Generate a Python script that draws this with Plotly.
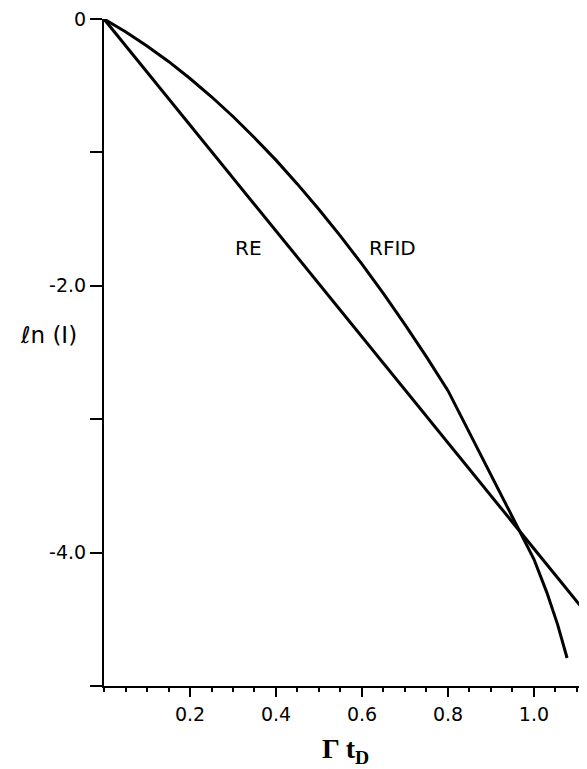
import plotly.graph_objects as go

# Data
re_x = [0.0, 1.113]
re_y = [0.0, -4.42]

rfid_x = [0.0, 0.05, 0.10, 0.15, 0.20, 0.25, 0.30, 0.35, 0.40, 0.45, 0.50, 0.55, 0.60,
          0.65, 0.70, 0.75, 0.80, 0.85, 0.90, 0.95, 1.00, 1.03, 1.055, 1.077]
rfid_y = [0.0, -0.096, -0.202, -0.318, -0.446, -0.583, -0.731, -0.890, -1.058, -1.238,
          -1.428, -1.628, -1.838, -2.059, -2.291, -2.533, -2.786, -3.10, -3.42, -3.73,
          -4.05, -4.30, -4.54, -4.79]

x_tick_vals = [0.2, 0.4, 0.6, 0.8, 1.0]
x_tick_text = ["0.2", "0.4", "0.6", "0.8", "1.0"]
y_tick_vals = [0, -2, -4]
y_tick_text = ["0", "-2.0", "-4.0"]

curve_labels = ["RE", "RFID"]
label_x = [0.337, 0.671]
label_y = [-1.72, -1.72]

fig = go.Figure()
fig.add_trace(go.Scatter(x=re_x, y=re_y, mode="lines",
                         line=dict(color="black", width=3), showlegend=False))
fig.add_trace(go.Scatter(x=rfid_x, y=rfid_y, mode="lines",
                         line=dict(color="black", width=3), showlegend=False))

for t, lx, ly in zip(curve_labels, label_x, label_y):
    fig.add_annotation(x=lx, y=ly, text=t, showarrow=False,
                       font=dict(family="DejaVu Sans", size=20, color="black"))

# y-axis title
fig.add_annotation(xref="x domain", x=0, y=-2.37, text="ℓn (I)", showarrow=False,
                   xanchor="right", xshift=-25,
                   font=dict(family="DejaVu Sans", size=23, color="black"))
# x-axis title
fig.add_annotation(xref="x domain", yref="y domain", x=0.5, y=0, showarrow=False,
                   text="<b>Γ t<sub>D</sub></b>", yanchor="bottom", yshift=-84,
                   font=dict(family="Liberation Serif", size=28, color="black"))

fig.update_xaxes(range=[0, 1.1233], showline=True, linecolor="black", linewidth=2,
                 showgrid=False, zeroline=False,
                 tickmode="array", tickvals=x_tick_vals, ticktext=x_tick_text,
                 ticks="outside", ticklen=9, tickwidth=2, tickcolor="black",
                 ticklabelstandoff=1, ticklabeloverflow="allow",
                 minor=dict(ticks="outside", dtick=0.05, tick0=0, ticklen=4,
                            tickwidth=1.5, tickcolor="black", showgrid=False),
                 tickfont=dict(family="DejaVu Sans", size=19, color="black"))
fig.update_yaxes(range=[-5, 0], showline=True, linecolor="black", linewidth=2,
                 showgrid=False, zeroline=False,
                 tickmode="array", tickvals=y_tick_vals, ticktext=y_tick_text,
                 ticks="outside", ticklen=12, tickwidth=2, tickcolor="black",
                 ticklabeloverflow="allow",
                 minor=dict(ticks="outside", dtick=1, tick0=0, ticklen=12,
                            tickwidth=2, tickcolor="black", showgrid=False),
                 tickfont=dict(family="DejaVu Sans", size=19, color="black"))

fig.update_layout(width=579, height=761,
                  margin=dict(l=96, r=0, t=11, b=83),
                  plot_bgcolor="white", paper_bgcolor="white")

fig.write_html("out.html")
